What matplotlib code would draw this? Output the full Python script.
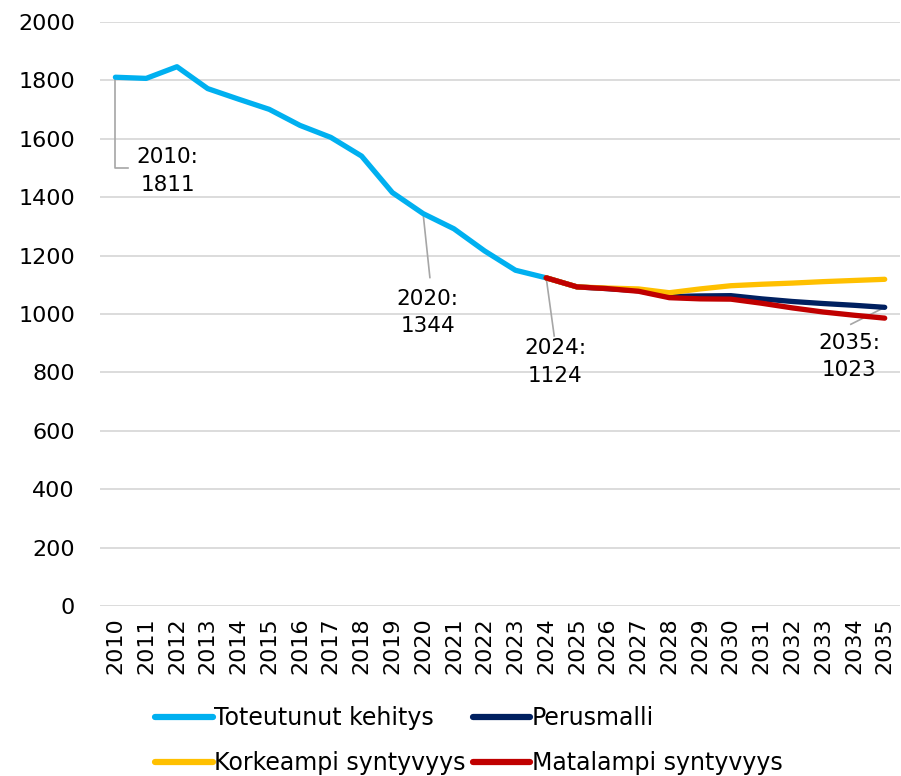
import matplotlib.pyplot as plt
from matplotlib.lines import Line2D

years = [str(y) for y in range(2010, 2036)]

# toteutunut kehitys 2010-2024
actual = [1811, 1807, 1847, 1772, 1736, 1701, 1646, 1605, 1541, 1416,
          1344, 1292, 1216, 1150, 1124]

# ennusteet 2024-2035
proj_years = years[14:]
perus = [1124, 1093, 1087, 1080, 1060, 1062, 1063, 1052, 1043, 1036, 1030, 1023]
korkea = [1124, 1093, 1089, 1086, 1073, 1086, 1097, 1102, 1106, 1111, 1115, 1119]
matala = [1124, 1093, 1087, 1078, 1056, 1052, 1051, 1037, 1021, 1007, 996, 986]

labels = ["Toteutunut kehitys", "Perusmalli", "Korkeampi syntyvyys", "Matalampi syntyvyys"]
colors = ["#00B0F0", "#002060", "#FFC000", "#C00000"]

plt.rcParams['font.family'] = ['DejaVu Sans']
fs = 16

fig = plt.figure(figsize=(9.01, 7.76), dpi=100)
ax = fig.add_axes([0.111, 0.219, 0.888, 0.7526])

x_all = list(range(len(years)))
x_proj = x_all[14:]
lw = 3.8
ax.plot(x_all[:15], actual, color=colors[0], lw=lw, solid_capstyle='round', zorder=3)
ax.plot(x_proj, perus, color=colors[1], lw=lw, solid_capstyle='round', zorder=3)
ax.plot(x_proj, korkea, color=colors[2], lw=lw, solid_capstyle='round', zorder=3)
ax.plot(x_proj, matala, color=colors[3], lw=lw, solid_capstyle='round', zorder=3)

ax.set_xlim(-0.5, len(years) - 0.5)
ax.set_ylim(0, 2000)
ax.set_yticks(range(0, 2001, 200))
ax.set_xticks(x_all)
ax.set_xticklabels(years, rotation=90)
ax.tick_params(length=0, labelsize=fs, colors='#000000')
ax.tick_params(axis='y', pad=18)
ax.tick_params(axis='x', pad=8)
ax.grid(axis='y', color='#D9D9D9', lw=1.3)
ax.set_axisbelow(True)
for s in ax.spines.values():
    s.set_visible(False)

# data labels with leader lines
gray = '#A6A6A6'
afs = 15.5
i = 0
ax.plot([i, i, i + 0.42], [actual[0], 1500, 1500], color=gray, lw=1.2, zorder=2)
ax.text(i + 1.7, 1490, "2010:\n1811", ha='center', va='center', fontsize=afs, linespacing=1.45)

i = 10
ax.plot([i, i + 0.22], [actual[i], 1125], color=gray, lw=1.2, zorder=2)
ax.text(i + 0.15, 1005, "2020:\n1344", ha='center', va='center', fontsize=afs, linespacing=1.45)

i = 14
ax.plot([i, i + 0.26], [actual[i], 925], color=gray, lw=1.2, zorder=2)
ax.text(i + 0.3, 836, "2024:\n1124", ha='center', va='center', fontsize=afs, linespacing=1.45)

i = 25
ax.plot([i, i - 1.1], [perus[-1], 965], color=gray, lw=1.2, zorder=2)
ax.text(i - 1.15, 855, "2035:\n1023", ha='center', va='center', fontsize=afs, linespacing=1.45)

# legend, row-major order
handles = [Line2D([], [], color=c, lw=4.5, solid_capstyle='round') for c in colors]
order = [0, 2, 1, 3]
fig.legend([handles[k] for k in order], [labels[k] for k in order],
           ncol=2, loc='upper left', bbox_to_anchor=(0.172, 0.090),
           frameon=False, fontsize=17, handlelength=2.45, handletextpad=0.05,
           columnspacing=0.3, labelspacing=0.88, borderaxespad=0, borderpad=0)

fig.savefig('out.png', dpi=100)
